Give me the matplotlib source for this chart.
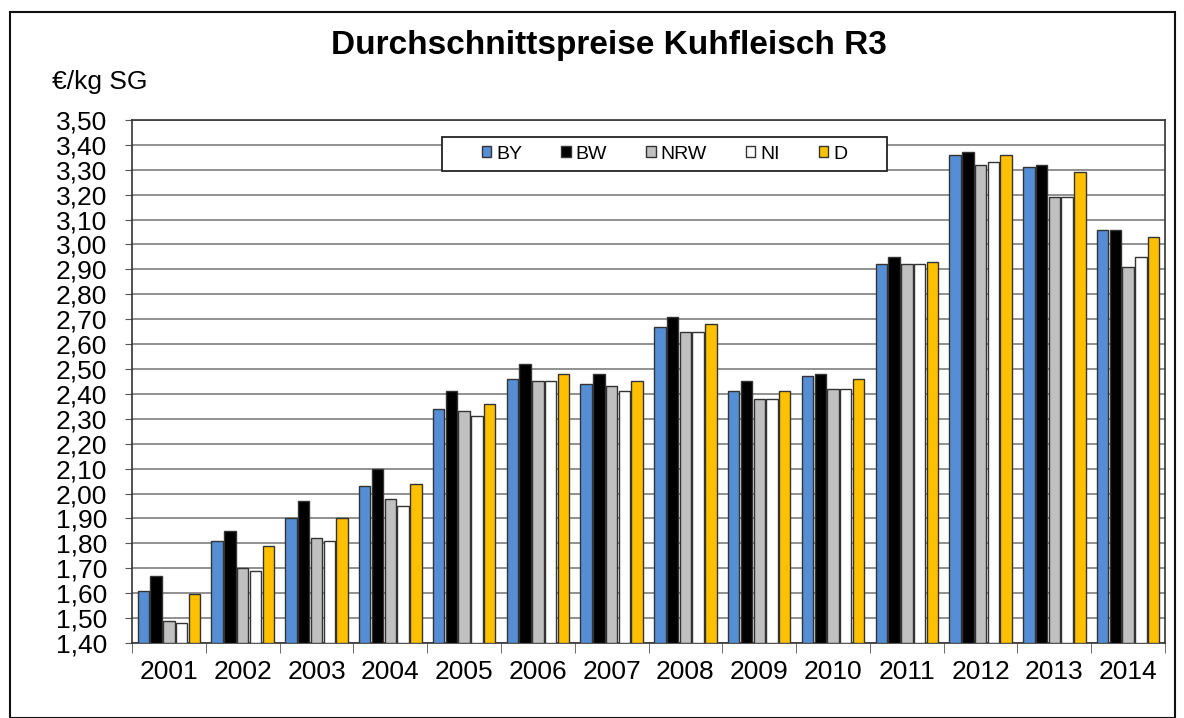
import matplotlib
matplotlib.use('Agg')
import matplotlib.pyplot as plt
from matplotlib.patches import Rectangle
from matplotlib.ticker import FixedLocator, FuncFormatter
import numpy as np

plt.rcParams['font.family'] = ['Liberation Sans', 'DejaVu Sans']

years = ['2001', '2002', '2003', '2004', '2005', '2006', '2007',
         '2008', '2009', '2010', '2011', '2012', '2013', '2014']
by = [1.61, 1.81, 1.90, 2.03, 2.34, 2.46, 2.44, 2.67, 2.41, 2.47, 2.92, 3.36, 3.31, 3.06]
bw = [1.67, 1.85, 1.97, 2.10, 2.41, 2.52, 2.48, 2.71, 2.45, 2.48, 2.95, 3.37, 3.32, 3.06]
nrw = [1.49, 1.70, 1.82, 1.98, 2.33, 2.45, 2.43, 2.65, 2.38, 2.42, 2.92, 3.32, 3.19, 2.91]
ni = [1.48, 1.69, 1.81, 1.95, 2.31, 2.45, 2.41, 2.65, 2.38, 2.42, 2.92, 3.33, 3.19, 2.95]
d = [1.595, 1.79, 1.90, 2.04, 2.36, 2.48, 2.45, 2.68, 2.41, 2.46, 2.93, 3.36, 3.29, 3.03]

series = [('BY', by, '#558ED5'), ('BW', bw, '#000000'), ('NRW', nrw, '#C0C0C0'),
          ('NI', ni, '#FFFFFF'), ('D', d, '#FFC000')]

fig = plt.figure(figsize=(11.84, 7.18), dpi=100)
ax = fig.add_axes([0.1115, 0.1045, 0.8725, 0.7285])

x = np.arange(len(years))
step = 0.173
for i, (name, vals, col) in enumerate(series):
    ax.bar(x + (i - 2) * step, np.array(vals) - 1.4, bottom=1.4, width=0.155,
           color=col, edgecolor='#333333', linewidth=1, label=name, zorder=3)

ax.set_xlim(-0.5, len(years) - 0.5)
ax.set_ylim(1.4, 3.5)
ax.set_yticks(np.arange(1.4, 3.51, 0.1))
ax.yaxis.set_major_formatter(FuncFormatter(lambda v, p: f'{v:.2f}'.replace('.', ',')))
ax.grid(axis='y', color='#888888', linewidth=1.3, zorder=0)
ax.set_xticks(x)
ax.set_xticklabels(years)
ax.tick_params(axis='x', which='major', length=0, pad=12, labelsize=19)
ax.xaxis.set_minor_locator(FixedLocator(np.arange(-0.5, len(years), 1.0)))
ax.tick_params(axis='x', which='minor', length=7, color='#555555')
ax.tick_params(axis='y', length=5, labelsize=19, color='#555555', pad=13)
for s in ax.spines.values():
    s.set_color('#333333')
    s.set_linewidth(1.2)

# legend frame drawn separately, entries centred inside it
ax.add_patch(Rectangle((0.30, 0.902), 0.431, 0.065, transform=ax.transAxes,
                       facecolor='white', edgecolor='#222222', linewidth=1.3, zorder=4))
leg = ax.legend(ncol=5, loc='center', bbox_to_anchor=(0.5155, 0.9345),
                fontsize=14, frameon=False, handlelength=0.5, handleheight=0.5,
                handletextpad=0.25, columnspacing=2.0)
leg.set_zorder(5)

fig.text(0.514, 0.937, 'Durchschnittspreise Kuhfleisch R3', ha='center', va='center',
         fontsize=24, fontweight='bold')
fig.text(0.044, 0.886, '€/kg SG', ha='left', va='center', fontsize=19)

fig.patches.append(Rectangle((10 / 1184, 0.0), 1165 / 1184, 1 - 12 / 718,
                             transform=fig.transFigure, fill=False,
                             edgecolor='#111111', linewidth=1.5))

fig.savefig('out.png', dpi=100)
